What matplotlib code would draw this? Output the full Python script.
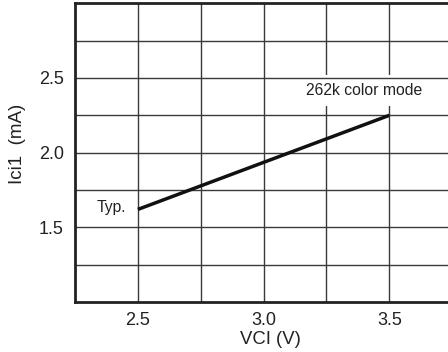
import matplotlib
matplotlib.use("Agg")
import matplotlib.pyplot as plt
from matplotlib.ticker import FixedLocator

# -----------------------------
# Data
# -----------------------------
vci = [2.5, 3.5]
ici1 = [1.62, 2.25]

x_major = [2.5, 3.0, 3.5]
x_minor = [2.75, 3.25]
y_major = [1.5, 2.0, 2.5]
y_minor = [1.25, 1.75, 2.25, 2.75]

plt.rcParams["font.family"] = ["Liberation Sans", "DejaVu Sans"]

fig = plt.figure(figsize=(4.48, 3.52), dpi=100)
ax = fig.add_axes([0.1674, 0.142, 0.842, 0.8486])

ax.set_xlim(2.25, 3.75)
ax.set_ylim(1.0, 3.0)

ax.xaxis.set_major_locator(FixedLocator(x_major))
ax.xaxis.set_minor_locator(FixedLocator(x_minor))
ax.yaxis.set_major_locator(FixedLocator(y_major))
ax.yaxis.set_minor_locator(FixedLocator(y_minor))
ax.set_xticklabels([f"{v:.1f}" for v in x_major])
ax.set_yticklabels([f"{v:.1f}" for v in y_major])

ax.tick_params(which="both", length=0, labelsize=13, colors="#222222")
ax.tick_params(axis="x", pad=7)
ax.tick_params(axis="y", pad=8)

# vertical grid below the label box, horizontal grid on top of it
ax.set_axisbelow(True)
ax.grid(axis="x", which="both", color="#3a3a3a", linewidth=1.0)
for yv in y_major + y_minor:
    ax.axhline(yv, color="#3a3a3a", linewidth=1.0, zorder=2)

for side in ["left", "bottom", "top", "right"]:
    ax.spines[side].set_linewidth(2.0)
    ax.spines[side].set_color("#222222")

ax.plot(vci, ici1, color="#111111", linewidth=2.5, solid_capstyle="butt", zorder=4)

ax.text(3.40, 2.415, "262k color mode", fontsize=11.3, ha="center", va="center",
        color="#222222", zorder=1.5,
        bbox=dict(facecolor="white", edgecolor="none", pad=6))
ax.text(2.395, 1.63, "Typ.", fontsize=11.3, ha="center", va="center", color="#222222")

ax.set_xlabel("VCI (V)", fontsize=13.3, color="#222222")
ax.set_ylabel("Ici1  (mA)", fontsize=13.5, color="#222222")
ax.xaxis.set_label_coords(0.5186, -0.097)
ax.yaxis.set_label_coords(-0.13, 0.529)

fig.savefig("out.png", dpi=100)
